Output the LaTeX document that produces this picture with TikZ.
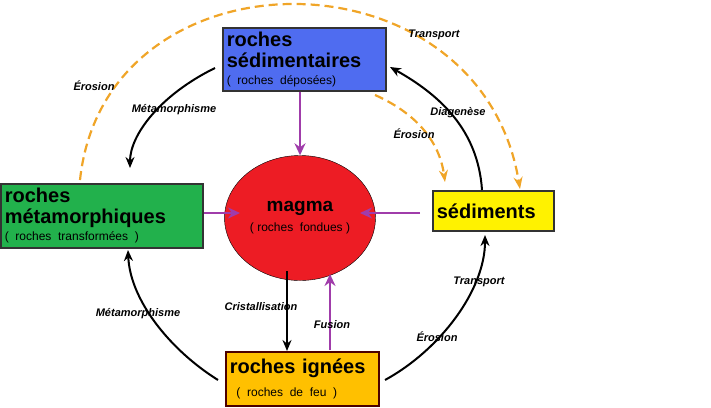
\documentclass[tikz,border=0pt]{standalone}
\usepackage{fontspec}
\setmainfont{Liberation Sans}
\usetikzlibrary{arrows.meta,positioning,shapes.geometric}
\definecolor{sedblue}{RGB}{79,108,240}
\definecolor{metgreen}{RGB}{34,177,76}
\definecolor{magred}{RGB}{237,28,36}
\definecolor{ignorange}{RGB}{255,192,0}
\definecolor{dashorange}{RGB}{240,165,40}
\definecolor{purplearr}{RGB}{160,60,170}
\newcommand\subtxt{\fontsize{12}{13}\selectfont\mdseries}
\begin{document}
\begin{tikzpicture}[x=1pt,y=-1pt,
        rock/.style={rectangle, draw=black!80, line width=1.6pt, align=left, inner sep=4pt, anchor=north west, font=\bfseries\fontsize{20}{21}\selectfont},
        proc/.style={font=\bfseries\itshape\fontsize{11}{13}\selectfont},
        cycle/.style={line width=2pt, -{Stealth[length=11pt,width=9pt]}},
        melt/.style={line width=2.4pt, purplearr, -{Stealth[length=12pt,width=11pt]}},
        wash/.style={line width=2.2pt, dashorange, dash pattern=on 9pt off 5pt, -{Stealth[length=12pt,width=9pt]}}
    ]
        \useasboundingbox (0,0) rectangle (711,407);
        % Rock boxes
        \node[rock, fill=sedblue, text width=155pt, minimum height=63pt] (sedi) at (222,27) {roches\\sédimentaires\\[-4pt]{\subtxt ( roches déposées)}};
        \node[rock, fill=metgreen, text width=194pt, minimum height=64pt] (meta) at (0,183) {roches\\métamorphiques\\[-4pt]{\subtxt ( roches transformées )}};
        \node[rock, fill=yellow, text width=113pt, minimum height=40pt] (sedim) at (432,190) {sédiments};
        \node[rock, draw=black!70!red, fill=ignorange, text width=145pt, minimum height=54pt] (igne) at (225,351) {roches ignées\\[2pt]{\subtxt\ ( roches de feu )}};
        % Magma
        \node[ellipse, draw, fill=magred, minimum width=116pt, minimum height=125pt, align=center,
              font=\bfseries\fontsize{19}{22}\selectfont] (magma) at (300,218) {magma\\[-2pt]{\subtxt ( roches\ \ fondues )}};
        % Anchors of the arcs
        \coordinate (tl1) at (215,68);   \coordinate (tl2) at (130,168);
        \coordinate (tr1) at (482,190);  \coordinate (tr2) at (390,67);
        \coordinate (br1) at (385,380);  \coordinate (br2) at (485,235);
        \coordinate (bl1) at (218,380);  \coordinate (bl2) at (128,250);
        % Cycle arcs
        \draw[cycle] (tl1) .. controls (160,95) and (130,135) .. (tl2);
        \draw[cycle] (tr1) .. controls (478,130) and (440,95) .. (tr2);
        \draw[cycle] (br1) .. controls (440,350) and (485,290) .. (br2);
        \draw[cycle] (bl1) .. controls (170,350) and (130,300) .. (bl2);
        \coordinate (cr1) at (287,271);
        \draw[cycle] (cr1) -- (igne.north -| cr1);
        % Towards and from magma
        \draw[melt] (sedi.south -| magma) -- (magma.north);
        \coordinate (m1) at (204,213);
        \draw[melt] (m1) -- (240,213);
        \coordinate (s1) at (420,213);
        \draw[melt] (s1) -- (360,213);
        \coordinate (f1) at (330,350);
        \draw[melt] (f1) -- (330,274);
        % Dashed paths
        \coordinate (d1) at (80,180); \coordinate (d2) at (375,95);
        \coordinate (d3) at (520,189); \coordinate (d4) at (445,182);
        \draw[wash] (d1) .. controls (105,-55) and (480,-55) .. (d3);
        \draw[wash] (d2) .. controls (420,115) and (440,145) .. (d4);
        % Labels
        \node[proc] (t1) at (434,35) {Transport};
        \node[proc] (e1) at (94,86) {Érosion};
        \node[proc] (mt1) at (174,110) {Métamorphisme};
        \node[proc] (dg) at (458,113) {Diagenèse};
        \node[proc] (e2) at (414,134) {Érosion};
        \node[proc] (cr) at (261,307) {Cristallisation};
        \node[proc] (fu) at (332,325) {Fusion};
        \node[proc] (mt2) at (138,314) {Métamorphisme};
        \node[proc] (t2) at (479,282) {Transport};
        \node[proc] (e3) at (437,337) {Érosion};
\end{tikzpicture}
\end{document}
